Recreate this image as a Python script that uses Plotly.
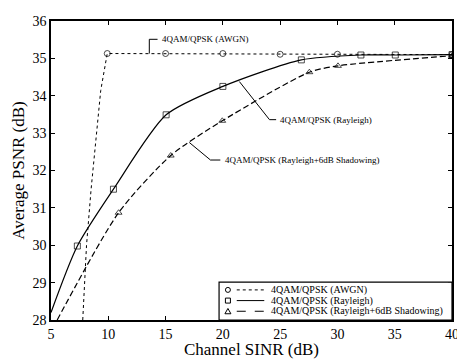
import plotly.graph_objects as go

# ---- data ----
awgn_x = [7.77, 8.1, 8.5, 9.34, 9.91, 15.0, 20.0, 25.0, 30.0, 40.0]
awgn_y = [28.0, 30.0, 31.5, 34.14, 35.13, 35.13, 35.13, 35.11, 35.11, 35.1]
awgn_marked = [False, False, False, False, True, True, True, True, True, True]

ray_x = [5.0, 7.3, 10.45, 15.05, 20.0, 26.85, 32.05, 35.05, 40.0]
ray_y = [28.2, 29.98, 31.5, 33.49, 34.25, 34.96, 35.09, 35.09, 35.1]
ray_marked = [False, True, True, True, True, True, True, True, True]

sh_x = [5.54, 10.9, 15.45, 19.95, 27.55, 30.05, 40.0]
sh_y = [28.0, 30.87, 32.4, 33.33, 34.63, 34.8, 35.07]
sh_marked = [False, True, True, True, True, True, True]

series_names = ["4QAM/QPSK (AWGN)", "4QAM/QPSK (Rayleigh)",
                "4QAM/QPSK (Rayleigh+6dB Shadowing)"]
x_ticks = [5, 10, 15, 20, 25, 30, 35, 40]
y_ticks = [28, 29, 30, 31, 32, 33, 34, 35, 36]

FONT = "Liberation Serif"
OFF = 8  # page body margin
W, H = 465 - OFF, 359 - OFF
L, T = 51 - OFF, 15 - OFF
R = W - (459 - OFF)
B = H - (323 - OFF)
pw, ph = W - L - R, H - T - B


def px2paper(px, py):
    """screen pixel -> paper coordinates"""
    return (px - OFF - L) / pw, (H - B - (py - OFF)) / ph


fig = go.Figure()


def add_series(x, y, marked, name, dash, symbol, width, shape):
    fig.add_trace(go.Scatter(
        x=x, y=y, name=name, mode="lines+markers",
        line=dict(color="black", width=width, dash=dash,
                  shape=shape, smoothing=0.7),
        marker=dict(symbol=symbol, color="black",
                    size=[6 if m else 0 for m in marked],
                    line=dict(color="black", width=1)),
        showlegend=False))


add_series(awgn_x, awgn_y, awgn_marked, series_names[0], "dot", "circle-open", 1, "linear")
add_series(ray_x, ray_y, ray_marked, series_names[1], "solid", "square-open", 1.2, "spline")
add_series(sh_x, sh_y, sh_marked, series_names[2], "6px,3px", "triangle-up-open", 1.2, "spline")

shapes = []
annotations = []

# ---- leader lines & curve labels (data coordinates) ----
lbl_font = dict(family=FONT, size=9, color="black")
leaders = [
    ([13.58, 13.58, 14.3], [35.13, 35.51, 35.51], series_names[0], 14.55, 35.51),
    ([21.44, 24.07, 24.65], [34.38, 33.36, 33.36], series_names[1], 24.85, 33.36),
    ([17.07, 18.92, 19.78], [32.75, 32.28, 32.28], series_names[2], 20.0, 32.28),
]
for xs, ys, txt, tx, ty in leaders:
    for i in range(len(xs) - 1):
        shapes.append(dict(type="line", xref="x", yref="y",
                           x0=xs[i], y0=ys[i], x1=xs[i + 1], y1=ys[i + 1],
                           line=dict(color="black", width=1)))
    annotations.append(dict(x=tx, y=ty, xref="x", yref="y", text=txt,
                            showarrow=False, xanchor="left", yanchor="middle",
                            font=lbl_font))

# ---- manual legend ----
bx0, by0 = px2paper(222, 323)
bx1, by1 = px2paper(459, 284)
shapes.append(dict(type="rect", xref="paper", yref="paper",
                   x0=bx0, y0=by0, x1=bx1, y1=by1,
                   line=dict(color="black", width=1.2), fillcolor="white",
                   layer="above"))
row_py = [292, 303, 314]
dashes = ["dot", "solid", "dash"]
for i, name in enumerate(series_names):
    mx, my = px2paper(231, row_py[i])
    lx0, _ = px2paper(240, row_py[i])
    lx1, _ = px2paper(268, row_py[i])
    tx, _ = px2paper(273, row_py[i])
    shapes.append(dict(type="line", xref="paper", yref="paper",
                       x0=lx0, x1=lx1, y0=my, y1=my, layer="above",
                       line=dict(color="black", width=1, dash=dashes[i])))
    common = dict(xref="paper", yref="paper", xsizemode="pixel",
                  ysizemode="pixel", xanchor=mx, yanchor=my, layer="above",
                  line=dict(color="black", width=1))
    if i == 0:
        shapes.append(dict(type="circle", x0=-2.5, x1=2.5, y0=-2.5, y1=2.5, **common))
    elif i == 1:
        shapes.append(dict(type="rect", x0=-2.5, x1=2.5, y0=-2.5, y1=2.5, **common))
    else:
        shapes.append(dict(type="path", path="M -3 -2.5 L 3 -2.5 L 0 2.8 Z", **common))
    annotations.append(dict(x=tx, y=my, xref="paper", yref="paper", text=name,
                            showarrow=False, xanchor="left", yanchor="middle",
                            font=dict(family=FONT, size=10, color="black")))

axis_common = dict(showgrid=False, zeroline=False, showline=True,
                   linecolor="black", linewidth=1.5, mirror="ticks",
                   ticks="inside", ticklen=4, tickcolor="black",
                   tickfont=dict(family=FONT, size=14, color="black"))

fig.update_layout(
    width=W, height=H,
    margin=dict(l=L, r=R, t=T, b=B, pad=0),
    paper_bgcolor="white", plot_bgcolor="white",
    shapes=shapes, annotations=annotations,
    xaxis=dict(range=[5, 40], tickvals=x_ticks,
               title=dict(text="Channel SINR (dB)", standoff=0,
                          font=dict(family=FONT, size=17, color="black")),
               **axis_common),
    yaxis=dict(range=[28, 36], tickvals=y_ticks,
               title=dict(text="Average PSNR (dB)", standoff=4,
                          font=dict(family=FONT, size=17, color="black")),
               **axis_common),
)

fig.write_html("out.html")
